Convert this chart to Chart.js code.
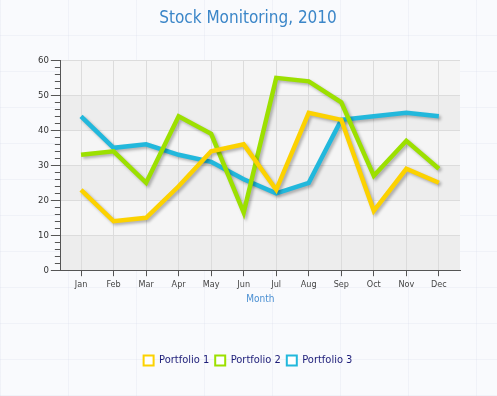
<!DOCTYPE html>
<html>
<head>
<meta charset="utf-8">
<script src="https://cdn.jsdelivr.net/npm/chart.js@4"></script>
<style>
  html, body { margin: 0; padding: 0; }
  body {
    width: 497px; height: 396px;
    background-color: #f9fafd;
    background-image:
      repeating-linear-gradient(90deg, rgba(200,205,225,0.18) 0 1px, transparent 1px 68px),
      repeating-linear-gradient(0deg, rgba(200,205,225,0.18) 0 1px, transparent 1px 36px);
  }
  canvas { display: block; }
</style>
</head>
<body>
<canvas id="stockChart" width="497" height="396"></canvas>
<script>
// Data
const months = ['Jan', 'Feb', 'Mar', 'Apr', 'May', 'Jun', 'Jul', 'Aug', 'Sep', 'Oct', 'Nov', 'Dec'];
const portfolio1 = [23, 14, 15, 24, 34, 36, 23, 45, 43, 17, 29, 25];
const portfolio2 = [33, 34, 25, 44, 39, 16.5, 55, 54, 48, 27, 37, 29];
const portfolio3 = [44, 35, 36, 33, 31, 26, 22, 25, 43, 44, 45, 44];
const yTicks = [0, 10, 20, 30, 40, 50, 60];

const colors = ['#fcd200', '#9ce000', '#22b8dc'];
const fontFace = '"DejaVu Sans Condensed", "DejaVu Sans", sans-serif';

// points as {x, y} so the x axis can be a linear scale with custom margins
function toPoints(arr) {
  return arr.map((v, i) => ({ x: i, y: v }));
}

// alternating bands behind the plot + minor ticks on the y axis
const plotDecor = {
  id: 'plotDecor',
  beforeDraw(chart) {
    const { ctx, chartArea: a, scales: { y } } = chart;
    ctx.save();
    for (let i = 0; i < yTicks.length - 1; i++) {
      const top = y.getPixelForValue(yTicks[i + 1]);
      const bot = y.getPixelForValue(yTicks[i]);
      ctx.fillStyle = i % 2 === 0 ? '#ededed' : '#f5f5f5';
      ctx.fillRect(a.left, top, a.right - a.left, bot - top);
    }
    ctx.restore();
  },
  afterDraw(chart) {
    const { ctx, chartArea: a, scales: { y } } = chart;
    ctx.save();
    ctx.strokeStyle = '#555';
    ctx.lineWidth = 1;
    ctx.beginPath();
    for (let v = 0; v <= 60; v += 2) {
      if (v % 10 === 0) continue;
      const py = Math.round(y.getPixelForValue(v)) + 0.5;
      ctx.moveTo(a.left - 6, py);
      ctx.lineTo(a.left, py);
    }
    ctx.stroke();
    ctx.restore();
  },
  beforeDatasetDraw(chart) {
    const ctx = chart.ctx;
    ctx.save();
    ctx.shadowColor = 'rgba(0,0,0,0.28)';
    ctx.shadowBlur = 3;
    ctx.shadowOffsetX = 2;
    ctx.shadowOffsetY = 2;
  },
  afterDatasetDraw(chart) {
    chart.ctx.restore();
  }
};

const stockChart = new Chart(document.getElementById('stockChart'), {
  type: 'line',
  data: {
    datasets: [
      { label: 'Portfolio 1', data: toPoints(portfolio1), borderColor: colors[0] },
      { label: 'Portfolio 2', data: toPoints(portfolio2), borderColor: colors[1] },
      { label: 'Portfolio 3', data: toPoints(portfolio3), borderColor: colors[2] },
    ].map(ds => Object.assign(ds, {
      borderWidth: 4.5,
      pointRadius: 0,
      fill: false,
      tension: 0,
      borderJoinStyle: 'miter',
      borderCapStyle: 'butt',
    })),
  },
  options: {
    responsive: false,
    animation: false,
    layout: { padding: { left: 36, right: 37, top: 6, bottom: 20 } },
    plugins: {
      tooltip: { enabled: false },
      title: {
        display: true,
        text: 'Stock Monitoring, 2010',
        color: '#3b86c8',
        font: { family: fontFace, size: 17, weight: 'normal' },
        padding: { top: 2, bottom: 32 },
      },
      legend: {
        position: 'bottom',
        labels: {
          color: '#1c1c78',
          font: { family: fontFace, size: 11 },
          boxWidth: 10,
          boxHeight: 10,
          padding: 6,
          generateLabels(chart) {
            return chart.data.datasets.map((ds, i) => ({
              text: ds.label,
              fillStyle: '#ffffff',
              strokeStyle: ds.borderColor,
              lineWidth: 2,
              fontColor: '#1c1c78',
              datasetIndex: i,
            }));
          },
        },
      },
    },
    scales: {
      x: {
        type: 'linear',
        min: -0.62,
        max: 11.65,
        afterBuildTicks(scale) {
          scale.ticks = months.map((m, i) => ({ value: i }));
        },
        ticks: {
          color: '#444',
          font: { family: fontFace, size: 9 },
          padding: 3,
          maxRotation: 0,
          callback: v => months[v],
        },
        grid: { color: '#dcdcdc', tickColor: '#555', tickLength: 6, drawOnChartArea: true },
        border: { color: '#555', width: 1 },
        title: {
          display: true,
          text: 'Month',
          color: '#4a8fd2',
          font: { family: fontFace, size: 10 },
          padding: { top: 0, bottom: 44 },
        },
      },
      y: {
        min: 0,
        max: 60,
        afterBuildTicks(scale) {
          scale.ticks = yTicks.map(v => ({ value: v }));
        },
        ticks: {
          color: '#333',
          font: { family: fontFace, size: 9.5 },
          padding: 2,
        },
        grid: { color: '#dcdcdc', tickColor: '#555', tickLength: 10 },
        border: { color: '#555', width: 1 },
      },
    },
  },
  plugins: [plotDecor],
});
</script>
</body>
</html>
